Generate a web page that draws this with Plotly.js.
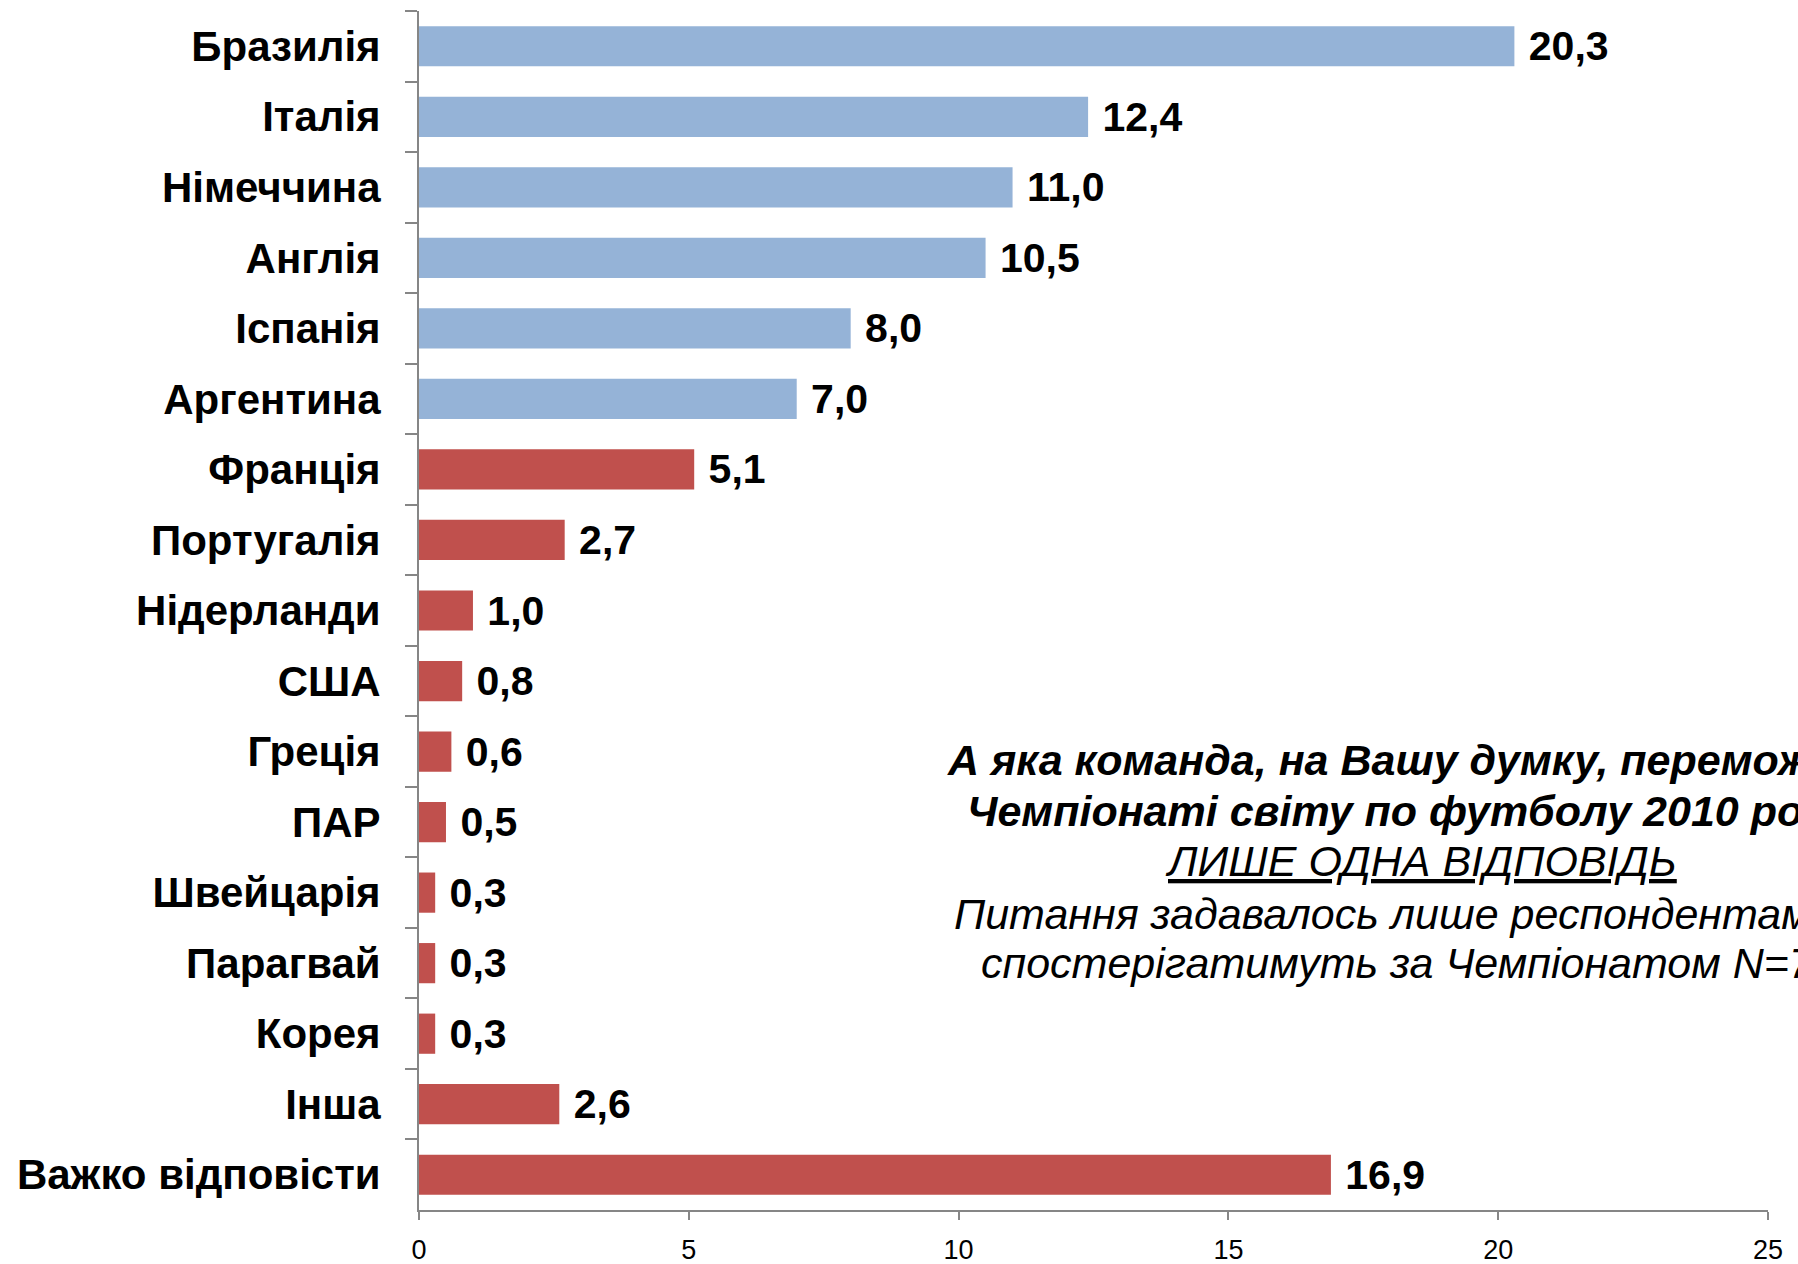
<!DOCTYPE html>
<html>
<head>
<meta charset="utf-8">
<script src="https://cdn.plot.ly/plotly-3.0.1.min.js"></script>
<style>html,body{margin:0;padding:0;background:#fff;}#chart{width:1798px;height:1264px;}</style>
</head>
<body>
<div id="chart"></div>
<script>
const categories = ["Бразилія","Італія","Німеччина","Англія","Іспанія","Аргентина","Франція","Португалія","Нідерланди","США","Греція","ПАР","Швейцарія","Парагвай","Корея","Інша","Важко відповісти"];
const values = [20.3,12.4,11.0,10.5,8.0,7.0,5.1,2.7,1.0,0.8,0.6,0.5,0.3,0.3,0.3,2.6,16.9];
const groups = ["top","top","top","top","top","top","other","other","other","other","other","other","other","other","other","other","other"];
const xTicks = [0,5,10,15,20,25];
const noteLines = [
  "<b>А яка команда, на Вашу думку, переможе на</b>",
  "<b>Чемпіонаті світу по футболу 2010 року?</b>",
  "<u>ЛИШЕ ОДНА ВІДПОВІДЬ</u>",
  "Питання задавалось лише респондентам, які",
  "спостерігатимуть за Чемпіонатом N=750"
];
const noteY = [0.375,0.333,0.291,0.247,0.206];

const colorMap = {top:"#95B3D7", other:"#C0504D"};
const labels = values.map(v => "\u00A0" + v.toFixed(1).replace(".", ","));

const trace = {
  type: "bar",
  orientation: "h",
  y: categories,
  x: values,
  marker: {color: groups.map(g => colorMap[g])},
  text: labels,
  textposition: "outside",
  constraintext: "none",
  cliponaxis: false,
  textfont: {family: "Liberation Sans, Arial, sans-serif", size: 41, color: "#000", weight: "bold"},
  hoverinfo: "none"
};

const annotations = noteLines.map((t, i) => ({
  xref: "paper", yref: "paper",
  x: 0.743, y: noteY[i],
  xanchor: "center", yanchor: "middle",
  text: "<i>" + t + "</i>",
  showarrow: false,
  font: {family: "Liberation Sans, Arial, sans-serif", size: 43, color: "#000"}
}));

const layout = {
  width: 1798, height: 1264,
  margin: {l: 419, r: 30, t: 11, b: 54},
  paper_bgcolor: "#fff", plot_bgcolor: "#fff",
  showlegend: false,
  bargap: 0.43,
  xaxis: {
    range: [0, 25],
    tickvals: xTicks,
    ticktext: xTicks.map(String),
    showgrid: false, zeroline: false,
    showline: true, linecolor: "#868686", linewidth: 2,
    ticks: "outside", ticklen: 8, tickcolor: "#868686", tickwidth: 2,
    tickfont: {family: "Liberation Sans, Arial, sans-serif", size: 27, color: "#000"},
    ticklabelstandoff: 7,
    fixedrange: true
  },
  yaxis: {
    autorange: "reversed",
    type: "category",
    showgrid: false, zeroline: false,
    showline: true, linecolor: "#868686", linewidth: 2,
    ticks: "outside", ticklen: 12, tickcolor: "#868686", tickwidth: 2,
    tickson: "boundaries",
    tickfont: {family: "Liberation Sans, Arial, sans-serif", size: 42, color: "#000", weight: "bold"},
    ticklabelstandoff: 28,
    fixedrange: true
  },
  annotations: annotations
};

Plotly.newPlot("chart", [trace], layout, {displayModeBar: false, staticPlot: true});
</script>
</body>
</html>
